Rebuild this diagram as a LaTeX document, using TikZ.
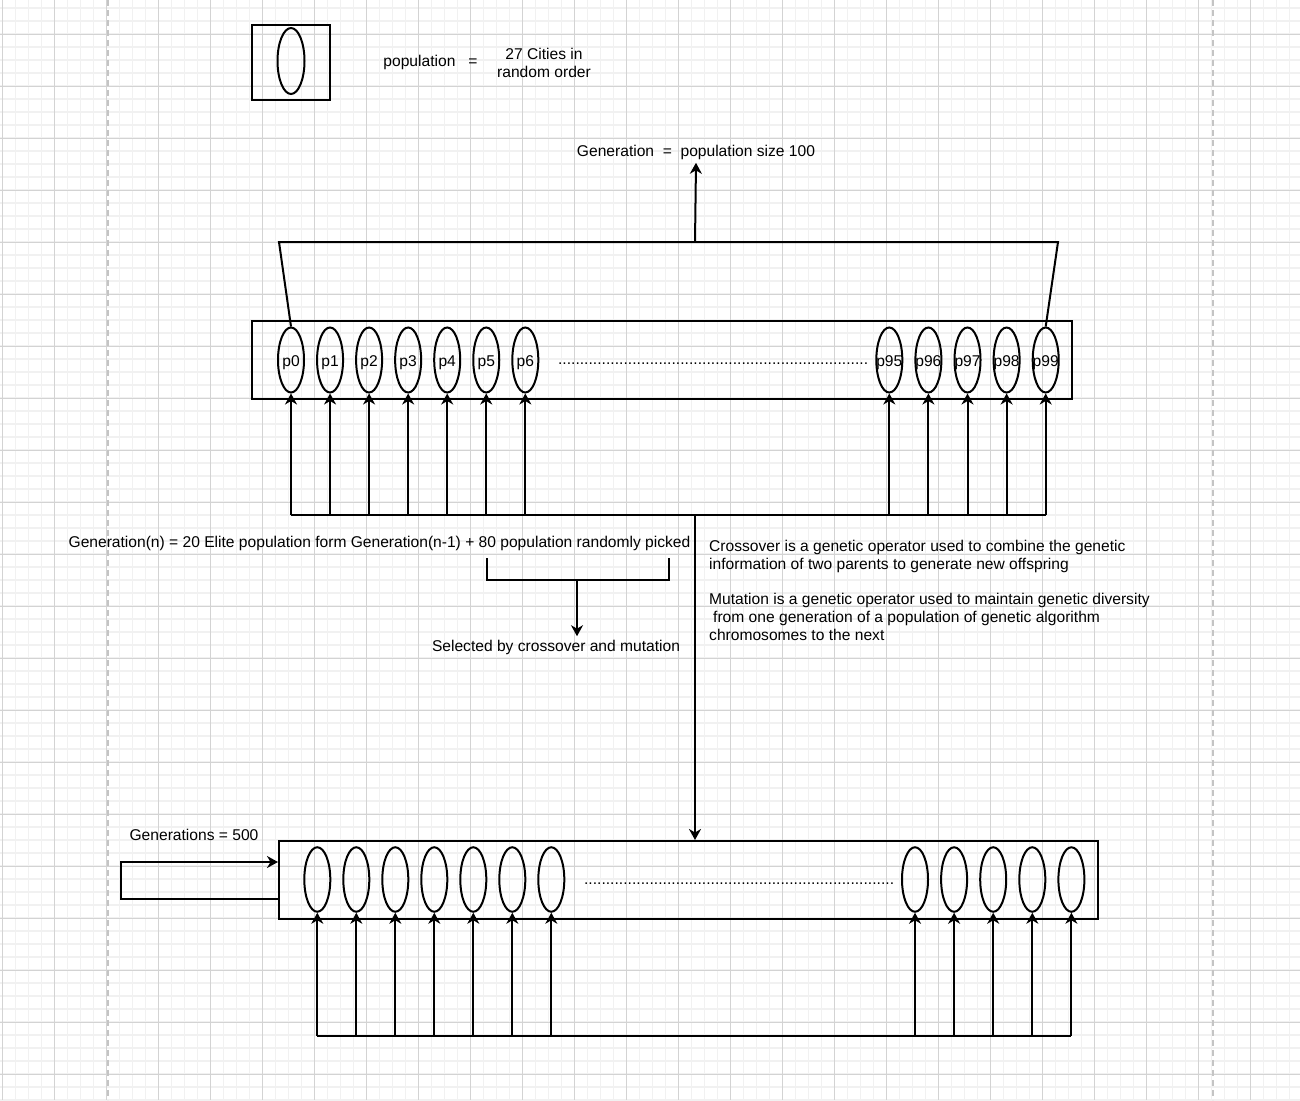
\documentclass[tikz,border=0pt]{standalone}
\usepackage{fontspec}
\setmainfont{Liberation Sans}
\usetikzlibrary{arrows.meta,positioning,shapes.geometric}
\definecolor{gridminor}{HTML}{F1F1F1}
\definecolor{gridmajor}{HTML}{D3D3D3}
\definecolor{pageedge}{HTML}{C4C4C4}

\tikzset{
  indiv/.style={draw,ellipse,line width=2pt,minimum width=26pt,minimum height=65pt,inner sep=0pt},
  popbox/.style={draw,line width=2pt,inner sep=0pt},
  flow/.style={-{Stealth[length=11pt,width=12pt,inset=3.5pt]},line width=2pt},
  wire/.style={line width=2pt},
  note/.style={inner sep=0pt,align=left},
}

\begin{document}
\begin{tikzpicture}[x=1pt,y=-1pt,every node/.style={font=\fontsize{15.6}{18}\selectfont}]
        \useasboundingbox (0,0) rectangle (1300,1100);
        \fill[white] (0,0) rectangle (1300,1100);
        % editor grid
        \foreach \i in {0,...,99} \draw[gridminor,line width=1.4pt] ({2.5+13*\i},0) -- ({2.5+13*\i},1100);
        \foreach \j in {0,...,84} \draw[gridminor,line width=1.4pt] (0,{8+13*\j}) -- (1300,{8+13*\j});
        \foreach \i in {0,...,24} \draw[gridmajor,line width=1pt] ({2.5+52*\i},0) -- ({2.5+52*\i},1100);
        \foreach \j in {0,...,20} \draw[gridmajor,line width=1pt] (0,{34+52*\j}) -- (1300,{34+52*\j});
        \draw[pageedge,line width=1.5pt,dash pattern=on 6pt off 4pt] (108,0) -- (108,1100);
        \draw[pageedge,line width=1.5pt,dash pattern=on 6pt off 4pt] (1213,0) -- (1213,1100);

        % legend
        \node[popbox,minimum width=78pt,minimum height=75pt] (legendbox) at (291,62.5) {};
        \node[indiv,minimum width=27pt,minimum height=66pt] (legendind) at (291,61) {};
        \node (poplabel) at (430.5,62.3) {population\ \ \ =};
        \node[align=center] (popvalue) at (544,62.5) {27 Cities in\\random order};

        % current generation
        \node (genlabel) at (696,152) {Generation~~=~~population size 100};
        \node[popbox,minimum width=820pt,minimum height=78pt] (genbox) at (662,360) {};
        \foreach \n [count=\k from 0] in {0,...,6}
          \node[indiv] (p\n) at ({291+39.05*\k},360) {\makebox[0pt]{\raisebox{-6.5pt}[0pt][0pt]{p\n}}};
        \foreach \n [count=\k from 0] in {95,...,99}
          \node[indiv] (p\n) at ({889.3+39.1*\k},360) {\makebox[0pt]{\raisebox{-6.5pt}[0pt][0pt]{p\n}}};
        \node[inner sep=0pt] (gendots) at (713,364) {\hbox to 310pt{\xleaders\hbox{.}\hfill}};
        \coordinate (topL) at (279,242);
        \coordinate (topR) at (1058,242);
        \coordinate (topmid) at (695,242);
        \draw[wire] (p0.north) -- (topL) -- (topR) -- (p99.north);
        \draw[flow] (topmid) -- (genlabel.south);
        \coordinate (feedtop) at (291,515);
        \draw[wire] (p0 |- feedtop) -- (p99 |- feedtop);
        \foreach \n in {0,1,2,3,4,5,6,95,96,97,98,99}
          \draw[flow] (p\n |- feedtop) -- (p\n.south);

        % selection
        \node (elite) at (379.5,543) {Generation(n) = 20 Elite population form Generation(n-1) + 80 population randomly picked};
        \coordinate (brL) at (487,558);
        \coordinate (brR) at (669,558);
        \coordinate (brM) at (577,580);
        \draw[wire] (brL) |- (brM) -| (brR);
        \node (sel) at (556,647) {Selected by crossover and mutation};
        \draw[flow] (brM) -- (brM |- sel.north);
        \node[note,anchor=west] (crossnote) at (709,556) {Crossover is a genetic operator used to combine the genetic\\information of two parents to generate new offspring};
        \node[note,anchor=west] (mutnote) at (709,617) {Mutation is a genetic operator used to maintain genetic diversity\\\hspace*{4pt}from one generation of a population of genetic algorithm\\chromosomes to the next};

        % next generation
        \node[popbox,minimum width=819pt,minimum height=78pt] (nextbox) at (688.5,880) {};
        \foreach \n [count=\k from 0] in {0,...,6}
          \node[indiv,minimum height=64.5pt] (n\n) at ({317.3+39*\k},879.5) {};
        \foreach \n [count=\k from 0] in {95,...,99}
          \node[indiv,minimum height=64.5pt] (n\n) at ({915+39.1*\k},879.5) {};
        \node[inner sep=0pt] (nextdots) at (739,884) {\hbox to 310pt{\xleaders\hbox{.}\hfill}};
        \coordinate (split) at (695,515);
        \draw[flow] (split) -- (split |- nextbox.north);
        \coordinate (feedlow) at (317,1036);
        \draw[wire] (n0 |- feedlow) -- (n99 |- feedlow);
        \foreach \n in {0,1,2,3,4,5,6,95,96,97,98,99}
          \draw[flow] (n\n |- feedlow) -- (n\n.south);
        \node (runs) at (194,835) {Generations = 500};
        \draw[flow] ([yshift=-19pt]nextbox.west) -- ++(-157,0) |- ([yshift=18pt]nextbox.west);
      \end{tikzpicture}
\end{document}
